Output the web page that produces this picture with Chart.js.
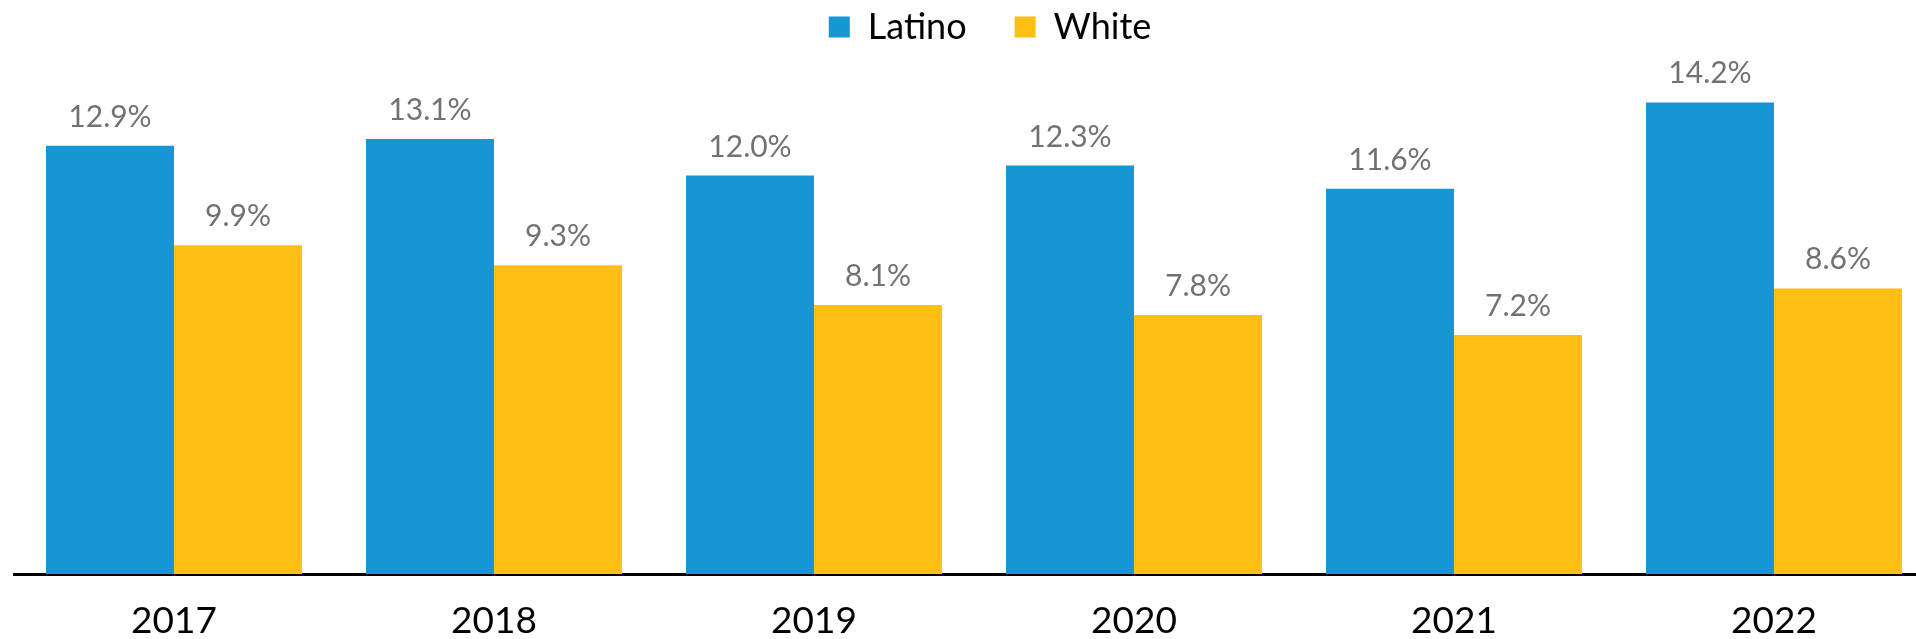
<!DOCTYPE html>
<html>
<head>
<meta charset="utf-8">
<script src="https://cdn.jsdelivr.net/npm/chart.js@4/dist/chart.umd.min.js"></script>
<style>
  html, body { margin: 0; padding: 0; background: #fff; overflow: hidden; }
  body { width: 1916px; height: 639px; position: relative; }
  #myChart { position: absolute; left: 0; top: -39px; }
</style>
</head>
<body>
<canvas id="myChart" width="1966" height="678"></canvas>
<script>
const years = ['2017', '2018', '2019', '2020', '2021', '2022'];
const latino = [12.9, 13.1, 12.0, 12.3, 11.6, 14.2];
const white = [9.9, 9.3, 8.1, 7.8, 7.2, 8.6];

// draws the value above each bar
const barLabels = {
  id: 'barLabels',
  afterDatasetsDraw(chart) {
    const ctx = chart.ctx;
    ctx.save();
    ctx.font = '30px Lato';
    ctx.fillStyle = '#767171';
    ctx.textAlign = 'center';
    ctx.textBaseline = 'alphabetic';
    chart.data.datasets.forEach((ds, i) => {
      chart.getDatasetMeta(i).data.forEach((bar, j) => {
        ctx.fillText(ds.data[j].toFixed(1) + '%', bar.x, bar.y - 19);
      });
    });
    ctx.restore();
  }
};

const ctx = document.getElementById('myChart').getContext('2d');
const myChart = new Chart(ctx, {
  type: 'bar',
  data: {
    labels: years,
    datasets: [
      {
        label: 'Latino',
        data: latino,
        backgroundColor: '#1696d2',
        borderWidth: 0,
        barPercentage: 1,
        categoryPercentage: 0.8
      },
      {
        label: 'White',
        data: white,
        backgroundColor: '#fdbf11',
        borderWidth: 0,
        barPercentage: 1,
        categoryPercentage: 0.8
      }
    ]
  },
  options: {
    responsive: false,
    animation: false,
    devicePixelRatio: 1,
    layout: { padding: { left: 14, right: 0, top: 0, bottom: 0 } },
    plugins: {
      legend: {
        position: 'top',
        labels: {
          boxWidth: 21,
          boxHeight: 21,
          padding: 48,
          color: '#000',
          font: { family: 'Lato', size: 36 }
        }
      },
      tooltip: { enabled: false }
    },
    scales: {
      x: {
        grid: { display: false, drawTicks: false },
        border: { display: true, color: '#000', width: 3 },
        ticks: { color: '#000', padding: 25, font: { family: 'Lato', size: 37 } },
        afterFit: s => { s.height = 65; }
      },
      y: {
        position: 'right',
        min: 0,
        max: 15.63,
        grid: { display: false },
        border: { display: false },
        ticks: { display: false },
        afterFit: s => { s.width = 32; }
      }
    }
  },
  plugins: [barLabels]
});
</script>
</body>
</html>
